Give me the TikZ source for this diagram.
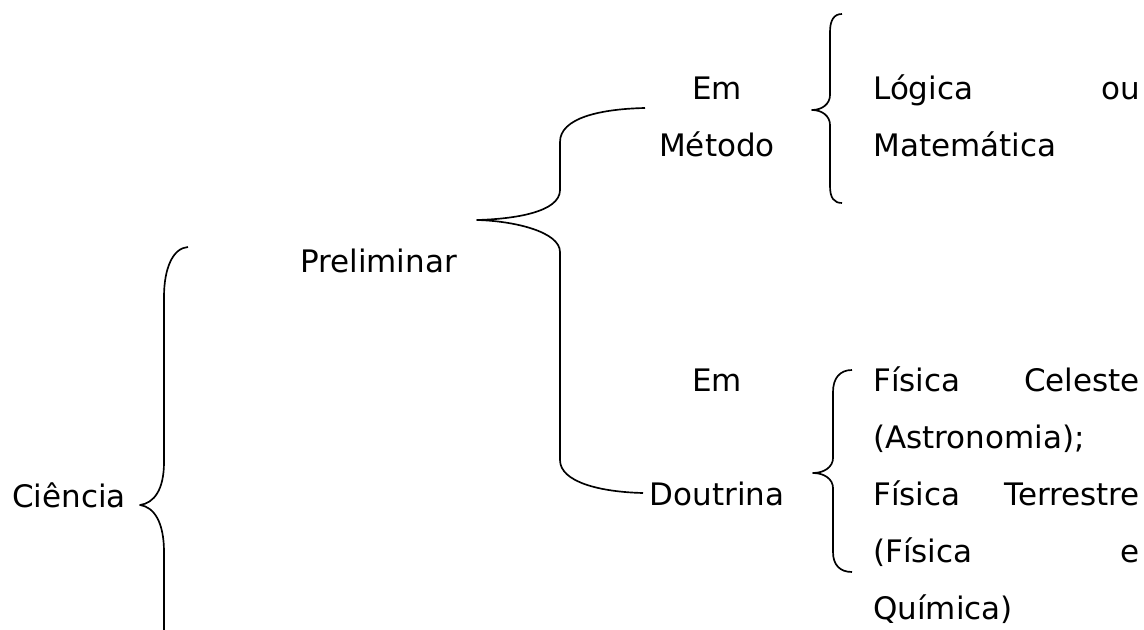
\documentclass[tikz,border=0pt]{standalone}
\usepackage{fontspec}
\setmainfont{DejaVu Sans}
\newcommand{\txtfont}{\fontsize{23.25pt}{28pt}\selectfont}
\newlength{\jw}
\setlength{\jw}{200pt}
\tikzset{
  txt/.style={font=\txtfont, inner sep=0pt, anchor=base west},
  ctxt/.style={font=\txtfont, inner sep=0pt, anchor=base},
  bracel/.style={draw=black, line width=1.25pt, line join=round}
}
\begin{document}
\begin{tikzpicture}[x=0.75pt,y=-0.75pt]
\useasboundingbox (0,0) rectangle (1144,630);
% texts
\node[txt] (ciencia) at (12,507) {Ciência};
\node[txt] (prelim) at (300,273) {Preliminar};
\node[ctxt] (em1) at (717,100) {Em};
\node[ctxt] (metodo) at (717,157) {Método};
\node[txt] (logica) at (873,100) {\makebox[\jw][s]{Lógica ou}};
\node[txt] (matem) at (873,157) {Matemática};
\node[ctxt] (em2) at (717,391) {Em};
\node[ctxt] (doutrina) at (717,505) {Doutrina};
\node[txt] (fc) at (873,391) {\makebox[\jw][s]{Física Celeste}};
\node[txt] (astro) at (873,448) {(Astronomia);};
\node[txt] (ft) at (873,505) {\makebox[\jw][s]{Física Terrestre}};
\node[txt] (fe) at (873,562) {\makebox[\jw][s]{(Física e}};
\node[txt] (quim) at (873,619) {Química)};
% brace of Ciencia
\draw[bracel] (188,247) .. controls (173,248) and (164,268) .. (164,297)
  -- (164,462) .. controls (164,490) and (154,503) .. (140,505)
  .. controls (154,507) and (164,522) .. (164,552) -- (164,632);
% brace of Preliminar
\draw[bracel] (645,108) .. controls (600,109) and (560,118) .. (560,142)
  -- (560,190) .. controls (560,212) and (515,219) .. (477,220)
  .. controls (515,221) and (560,232) .. (560,252)
  -- (560,460) .. controls (560,482) and (600,492) .. (643,493);
% brace of Metodo
\draw[bracel] (842,14) .. controls (834,14) and (830,20) .. (830,32)
  -- (830,95) .. controls (830,104) and (822,110) .. (812,110)
  .. controls (822,110) and (830,116) .. (830,125)
  -- (830,186) .. controls (830,198) and (834,203) .. (842,203);
% brace of Doutrina
\draw[bracel] (852,370) .. controls (840,370) and (833,378) .. (833,392)
  -- (833,458) .. controls (833,467) and (824,473) .. (813,473)
  .. controls (824,473) and (833,479) .. (833,488)
  -- (833,552) .. controls (833,565) and (840,572) .. (852,572);
\end{tikzpicture}
\end{document}
